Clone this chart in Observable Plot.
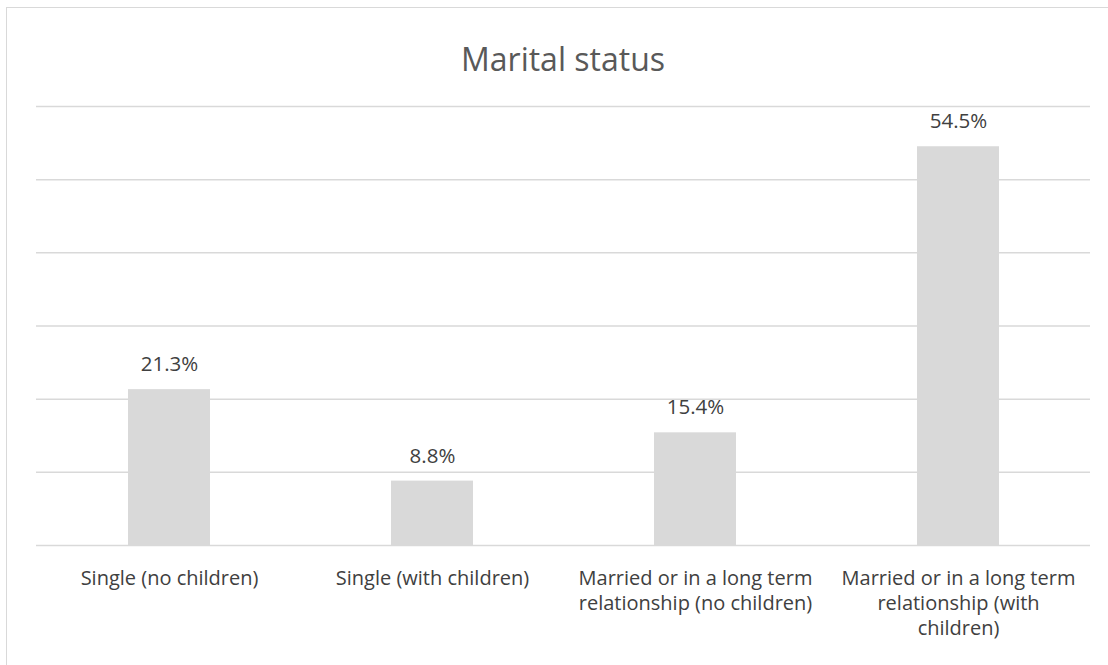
<!DOCTYPE html>
<html>
<head>
<meta charset="utf-8">
<script src="https://cdn.jsdelivr.net/npm/d3@7"></script>
<script src="https://cdn.jsdelivr.net/npm/@observablehq/plot@0.6"></script>
<style>
  html, body { margin: 0; padding: 0; background: #fff; width: 1108px; height: 665px; overflow: hidden; }
  #frame { position: absolute; left: 6px; top: 7px; width: 1200px; height: 700px;
           border-left: 1.5px solid #d9d9d9; border-top: 1.5px solid #d9d9d9; }
  #title { position: absolute; left: 0; top: 37px; width: 1126px; text-align: center;
           font-family: "Open Sans", sans-serif; font-size: 32px; line-height: 44px; color: #595959; }
  #chart { position: absolute; left: 0; top: 0; }
</style>
</head>
<body>
<div id="frame"></div>
<div id="title">Marital status</div>
<div id="chart"></div>
<script>
const categories = [
  "Single (no children)",
  "Single (with children)",
  "Married or in a long term relationship (no children)",
  "Married or in a long term relationship (with children)"
];
const values = [21.3, 8.8, 15.4, 54.5];
const tickLabels = [
  "Single (no children)",
  "Single (with children)",
  "Married or in a long term\nrelationship (no children)",
  "Married or in a long term\nrelationship (with\nchildren)"
];
const gridTicks = [0, 10, 20, 30, 40, 50, 60];

const data = categories.map((c, i) => ({category: c, value: values[i], label: values[i].toFixed(1) + "%"}));
const labelOf = new Map(categories.map((c, i) => [c, tickLabels[i]]));

const chart = Plot.plot({
  width: 1108,
  height: 665,
  marginLeft: 36,
  marginRight: 18,
  marginTop: 106,
  marginBottom: 120,
  style: {fontFamily: "Open Sans, sans-serif", fontSize: "20px", color: "#404040", background: "transparent"},
  x: {domain: categories, paddingInner: 0.69, paddingOuter: 0.345, label: null},
  y: {domain: [0, 60], label: null},
  marks: [
    Plot.ruleY(gridTicks.filter(d => d > 0), {stroke: "#d9d9d9", strokeWidth: 1.5, strokeOpacity: 1}),
    Plot.barY(data, {x: "category", y: "value", fill: "#d9d9d9"}),
    Plot.ruleY([0], {stroke: "#d9d9d9", strokeWidth: 1.5, strokeOpacity: 1}),
    Plot.text(data, {x: "category", y: "value", text: "label", dy: -25, fill: "#404040", fontSize: 20.5}),
    Plot.axisX({tickSize: 0, tickPadding: 22, tickFormat: d => labelOf.get(d), lineHeight: 1.24, fontSize: 20, fill: "#404040", textAnchor: "middle"}),
    Plot.axisY({ticks: [], tickSize: 0})
  ]
});
document.getElementById("chart").appendChild(chart);
</script>
</body>
</html>
